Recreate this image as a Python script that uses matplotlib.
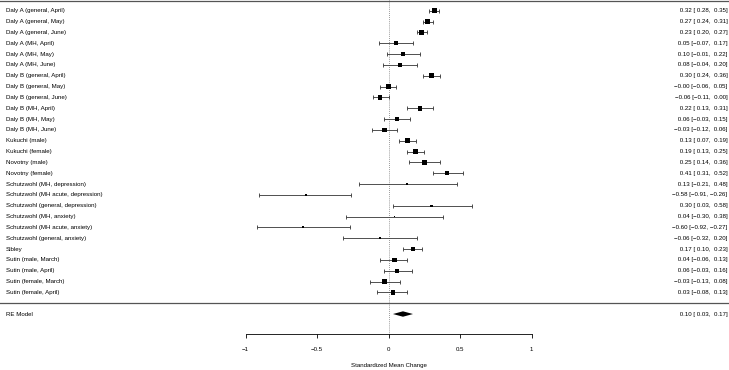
import numpy as np
import matplotlib
matplotlib.use("Agg")
import matplotlib.pyplot as plt
from matplotlib.patches import Polygon

# study labels, estimates and 95% CIs (top to bottom)
studies = [
    "Daly A (general, April)", "Daly A (general, May)", "Daly A (general, June)",
    "Daly A (MH, April)", "Daly A (MH, May)", "Daly A (MH, June)",
    "Daly B (general, April)", "Daly B (general, May)", "Daly B (general, June)",
    "Daly B (MH, April)", "Daly B (MH, May)", "Daly B (MH, June)",
    "Kukuchi (male)", "Kukuchi (female)", "Novotny (male)", "Novotny (female)",
    "Schutzwohl (MH, depression)", "Schutzwohl (MH acute, depression)",
    "Schutzwohl (general, depression)", "Schutzwohl (MH, anxiety)",
    "Schutzwohl (MH acute, anxiety)", "Schutzwohl (general, anxiety)",
    "Sibley", "Sutin (male, March)", "Sutin (male, April)",
    "Sutin (female, March)", "Sutin (female, April)",
]
est = [0.32, 0.27, 0.23, 0.05, 0.10, 0.08, 0.30, -0.00, -0.06, 0.22, 0.06, -0.03,
       0.13, 0.19, 0.25, 0.41, 0.13, -0.58, 0.30, 0.04, -0.60, -0.06,
       0.17, 0.04, 0.06, -0.03, 0.03]
ci_lo = [0.28, 0.24, 0.20, -0.07, -0.01, -0.04, 0.24, -0.06, -0.11, 0.13, -0.03, -0.12,
         0.07, 0.13, 0.14, 0.31, -0.21, -0.91, 0.03, -0.30, -0.92, -0.32,
         0.10, -0.06, -0.03, -0.13, -0.08]
ci_hi = [0.35, 0.31, 0.27, 0.17, 0.22, 0.20, 0.36, 0.05, 0.00, 0.31, 0.15, 0.06,
         0.19, 0.25, 0.36, 0.52, 0.48, -0.26, 0.58, 0.38, -0.27, 0.20,
         0.23, 0.13, 0.16, 0.08, 0.13]

re_label = "RE Model"
re_est, re_lo, re_hi = 0.10, 0.03, 0.17
tau2 = 0.02  # between-study variance used for the square sizes

x_ticks = [-1, -0.5, 0, 0.5, 1]
x_label = "Standardized Mean Change"

plt.rcParams["font.family"] = ["Liberation Sans", "DejaVu Sans"]
FS = 4.4


def fmt(v):
    return f"{v:5.2f}".replace("-", "\u2212")


fig = plt.figure(figsize=(7.29, 3.70), dpi=100)
ax = fig.add_axes([0, 0, 1, 1])

k = len(studies)
rows = np.arange(k, 0, -1)
est_a = np.array(est)
lo_a = np.array(ci_lo)
hi_a = np.array(ci_hi)

# random-effects weights -> square sizes (metafor style, 0.5 .. 1.5)
se = (hi_a - lo_a) / (2 * 1.96)
w = 1.0 / (se ** 2 + tau2)
psize = 0.5 + (w - w.min()) / (w.max() - w.min())

ax.errorbar(est_a, rows, xerr=[est_a - lo_a, hi_a - est_a], fmt="none",
            ecolor="#333333", elinewidth=0.6, capsize=1.3, capthick=0.6)
ax.scatter(est_a, rows, marker="s", s=(psize * 2.35) ** 2, color="black",
           linewidths=0, zorder=3)

# summary diamond
diamond = Polygon([[re_lo, -1], [re_est, -0.75], [re_hi, -1], [re_est, -1.25]],
                  closed=True, color="black", lw=0)
ax.add_patch(diamond)

x_left, x_right = -2.676, 2.369
for r, name, e, lo, hi in zip(rows, studies, est, ci_lo, ci_hi):
    ax.text(x_left, r, name, fontsize=FS, ha="left", va="center")
    ax.text(x_right, r, f"{fmt(e)} [{fmt(lo)}, {fmt(hi)}]", fontsize=FS,
            ha="right", va="center")
ax.text(x_left, -1, re_label, fontsize=FS, ha="left", va="center")
ax.text(x_right, -1, f"{fmt(re_est)} [{fmt(re_lo)}, {fmt(re_hi)}]", fontsize=FS,
        ha="right", va="center")

# reference lines
ax.plot([0, 0], [28, -2.85], color="#777777", lw=0.6, ls=(0, (1, 1.5)), zorder=1)
ax.axhline(27.95, color="#555555", lw=0.9)
ax.axhline(0, color="#555555", lw=0.9)

ax.set_xlim(-2.718, 2.380)
ax.set_ylim(-6.17, 28)

for s in ["top", "left", "right"]:
    ax.spines[s].set_visible(False)
ax.spines["bottom"].set_position(("data", -2.85))
ax.spines["bottom"].set_bounds(-1, 1)
ax.spines["bottom"].set_linewidth(0.6)
ax.set_xticks(x_ticks)
ax.set_xticklabels(["\u22121", "\u22120.5", "0", "0.5", "1"])
ax.tick_params(axis="x", length=2.9, width=0.6, pad=6.3, labelsize=FS)
ax.set_yticks([])
ax.text(0, -5.78, x_label, fontsize=FS, ha="center", va="center")

fig.savefig("out.png", dpi=100)
